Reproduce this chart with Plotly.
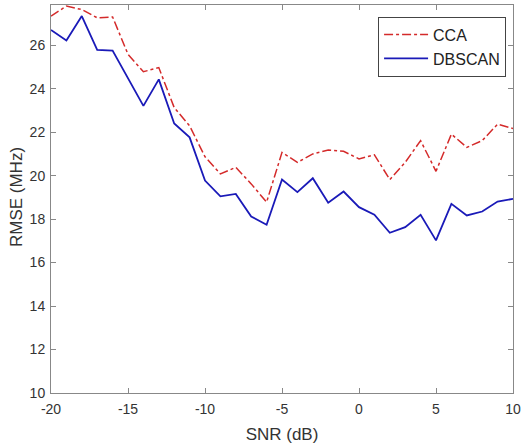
import plotly.graph_objects as go

snr = list(range(-20, 11))
cca = [27.34, 27.8, 27.64, 27.26, 27.3, 25.58, 24.78, 24.97, 23.13, 22.29,
       20.87, 20.08, 20.38, 19.62, 18.78, 21.07, 20.61, 21.0, 21.18, 21.12,
       20.77, 20.96, 19.82, 20.61, 21.61, 20.2, 21.91, 21.3, 21.61, 22.37, 22.17]
dbscan = [26.7, 26.22, 27.34, 25.78, 25.75, 24.51, 23.21, 24.43, 22.4, 21.76,
          19.77, 19.05, 19.16, 18.12, 17.74, 19.82, 19.24, 19.88, 18.75, 19.27,
          18.55, 18.2, 17.37, 17.63, 18.2, 17.02, 18.7, 18.17, 18.35, 18.81, 18.93]
xticks = [-20, -15, -10, -5, 0, 5, 10]
xticklabels = ["-20", "-15", "-10", "-5", "0", "5", "10"]
yticks = [10, 12, 14, 16, 18, 20, 22, 24, 26]
yticklabels = ["10", "12", "14", "16", "18", "20", "22", "24", "26"]

fig = go.Figure()
fig.add_trace(go.Scatter(x=snr, y=cca, mode="lines", name="CCA",
                         line=dict(color="#d42a2a", width=1.5, dash="dashdot")))
fig.add_trace(go.Scatter(x=snr, y=dbscan, mode="lines", name="DBSCAN",
                         line=dict(color="#1a1ab8", width=1.8)))

axis_common = dict(showgrid=False, zeroline=False, showline=True, linecolor="#888888",
                   linewidth=1, mirror="allticks", ticks="inside", ticklen=5,
                   tickcolor="#888888", automargin=False,
                   tickfont=dict(size=14, color="#333333"))
fig.update_xaxes(range=[-20, 10], tickvals=xticks, ticktext=xticklabels, ticklabelstandoff=3,
                 title=dict(text="SNR (dB)", font=dict(size=17, color="#333333")), **axis_common)
fig.update_yaxes(range=[10, 27.85], tickvals=yticks, ticktext=yticklabels, ticklabelstandoff=2,
                 **axis_common)

fig.add_annotation(text="RMSE (MHz)", xref="paper", yref="paper",
                   x=-35 / 462, y=0.505, xanchor="center", yanchor="middle",
                   textangle=-90, showarrow=False,
                   font=dict(size=17, color="#333333"))

fig.update_layout(
    width=526, height=444,
    margin=dict(l=51, r=13, t=5, b=51),
    paper_bgcolor="white", plot_bgcolor="white",
    font=dict(family="Liberation Sans, Arial, sans-serif", color="#222222"),
    legend=dict(x=0.985, y=0.97, xanchor="right", yanchor="top",
                bordercolor="#444444", borderwidth=1, bgcolor="white", itemwidth=44,
                font=dict(size=16, color="#222222"), tracegroupgap=0),
)
fig.write_html("out.html", config={"displayModeBar": False},
               post_script="document.body.style.margin='0';document.body.style.overflow='hidden';")
